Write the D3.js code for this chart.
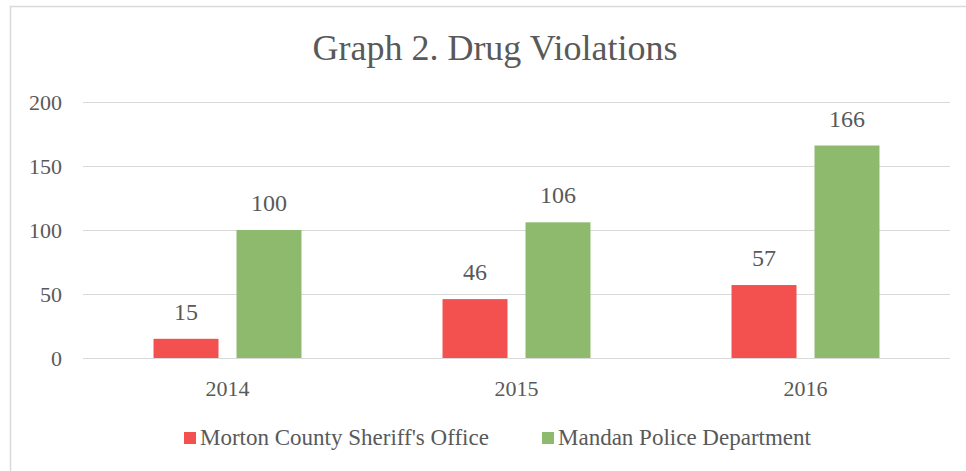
<!DOCTYPE html>
<html>
<head>
<meta charset="utf-8">
<script src="https://cdn.jsdelivr.net/npm/d3@7"></script>
<style>
  html, body { margin: 0; padding: 0; background: #fff; }
  svg { display: block; }
  text { font-family: "Liberation Serif", "DejaVu Serif", serif; fill: #595959; }
</style>
</head>
<body>
<svg id="chart" width="966" height="471"></svg>
<script>
const title = "Graph 2. Drug Violations";
const years = ["2014", "2015", "2016"];
const seriesNames = ["Morton County Sheriff's Office", "Mandan Police Department"];
const mortonValues = [15, 46, 57];
const mandanValues = [100, 106, 166];
const yTicks = [0, 50, 100, 150, 200];
const colors = ["#F2514F", "#8EBA6E"];

const svg = d3.select("#chart");

// chart border
svg.append("rect")
  .attr("x", 10.5).attr("y", 6.5)
  .attr("width", 970).attr("height", 480)
  .attr("fill", "none").attr("stroke", "#d9d9d9").attr("stroke-width", 1.5);

// title
svg.append("text")
  .attr("x", 495).attr("y", 60)
  .attr("text-anchor", "middle")
  .style("font-size", "36px")
  .text(title);

const y = d3.scaleLinear().domain([0, 200]).range([358, 102]);
const x0 = d3.scaleBand().domain(years).range([83, 950]).paddingInner(0.488).paddingOuter(0.244);
const x1 = d3.scaleBand().domain(seriesNames).range([0, x0.bandwidth()]).paddingInner(18 / 83);

// gridlines
svg.append("g").selectAll("line").data(yTicks).join("line")
  .attr("x1", 83).attr("x2", 950)
  .attr("y1", d => Math.round(y(d)) + 0.5).attr("y2", d => Math.round(y(d)) + 0.5)
  .attr("stroke", "#d9d9d9").attr("stroke-width", 1.2);

// y axis labels
const yAxis = d3.axisLeft(y).tickValues(yTicks).tickSize(0).tickPadding(0);
const gy = svg.append("g").attr("transform", "translate(62,0)").call(yAxis);
gy.select(".domain").remove();
gy.selectAll("text").style("font-size", "22px").attr("fill", "#595959")
  .style("font-family", "'Liberation Serif', serif").attr("dy", "0.32em");

// x axis labels
const xAxis = d3.axisBottom(x0).tickSize(0).tickPadding(0);
const gx = svg.append("g").attr("transform", "translate(0,380)").call(xAxis);
gx.select(".domain").remove();
gx.selectAll("text").style("font-size", "22px").attr("fill", "#595959")
  .style("font-family", "'Liberation Serif', serif").attr("dy", "0.71em");

const data = years.map((yr, i) => ({
  year: yr,
  vals: [
    { s: seriesNames[0], v: mortonValues[i], c: colors[0] },
    { s: seriesNames[1], v: mandanValues[i], c: colors[1] }
  ]
}));

const groups = svg.append("g").selectAll("g").data(data).join("g")
  .attr("transform", d => `translate(${x0(d.year)},0)`);

groups.selectAll("rect").data(d => d.vals).join("rect")
  .attr("x", d => x1(d.s))
  .attr("y", d => y(d.v))
  .attr("width", x1.bandwidth())
  .attr("height", d => y(0) - y(d.v))
  .attr("fill", d => d.c);

groups.selectAll("text.val").data(d => d.vals).join("text")
  .attr("class", "val")
  .attr("x", d => x1(d.s) + x1.bandwidth() / 2)
  .attr("y", d => y(d.v) - 19)
  .attr("text-anchor", "middle")
  .style("font-size", "24px")
  .text(d => d.v);

// legend
const legendX = [184, 542];
const lg = svg.append("g").selectAll("g").data(seriesNames).join("g")
  .attr("transform", (d, i) => `translate(${legendX[i]},432)`);
lg.append("rect").attr("width", 12).attr("height", 12).attr("fill", (d, i) => colors[i]);
lg.append("text").attr("x", 16).attr("y", 13)
  .style("font-size", "23px").text(d => d);
</script>
</body>
</html>
